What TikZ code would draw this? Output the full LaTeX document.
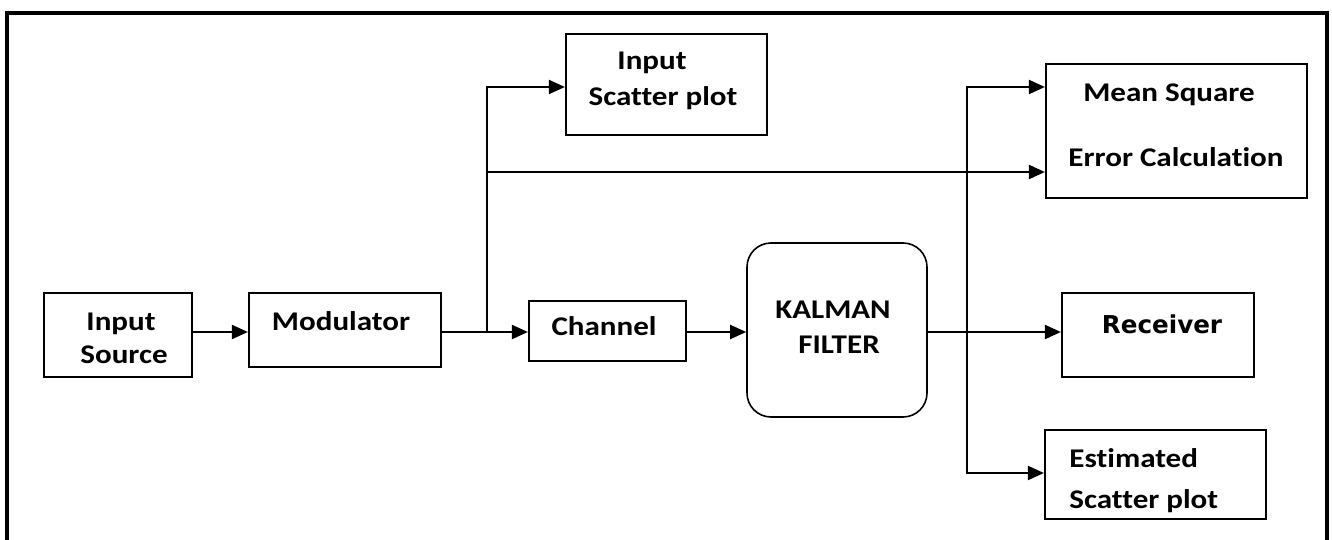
\documentclass[tikz,border=0pt]{standalone}
\usepackage{fontspec}
\setmainfont{Carlito}[FakeStretch=1.15,Ligatures=NoCommon]
\newfontfamily\rxfont{DejaVu Sans}
\usetikzlibrary{arrows.meta,fit}
\begin{document}
\begin{tikzpicture}[x=0.5pt,y=-0.5pt,
  box/.style={draw, line width=1.1pt, inner sep=0pt},
  kbox/.style={draw, line width=0.8pt, inner sep=0pt, rounded corners=12pt},
  conn/.style={line width=1pt},
  arr/.style={line width=1pt, -{Triangle[length=8pt,width=7pt]}},
  txt/.style={font=\fontsize{13.5}{16}\selectfont\bfseries, inner sep=0pt, anchor=base},
  ltxt/.style={font=\fontsize{13.5}{16}\selectfont\bfseries, inner sep=0pt, anchor=base west}]
\useasboundingbox (0,0) rectangle (1332,540);
% outer frame
\draw[line width=2pt] (7,545) -- (7,13) -- (1327,13) -- (1327,545);
% boxes
\node[box, fit={(44,293)(192,377)}] (ins) {};
\node[box, fit={(249,293)(441,367)}] (mod) {};
\node[box, fit={(529,301)(686,361)}] (ch) {};
\node[kbox, fit={(747,243)(927,417)}] (kf) {};
\node[box, fit={(1062,293)(1254,377)}] (rx) {};
\node[box, fit={(566,34)(767,135)}] (isp) {};
\node[box, fit={(1046,64)(1307,198)}] (mse) {};
\node[box, fit={(1045,430)(1266,519)}] (est) {};
% texts
\node[txt] (inst1) at (121,330) {Input};
\node[txt] (inst2) at (124,363) {Source};
\node[txt] (modt) at (341,330) {Modulator};
\node[txt] (cht) at (604,335) {Channel};
\node[txt] (kft1) at (833,318) {KALMAN};
\node[txt] (kft2) at (839,353) {FILTER};
\node[font=\rxfont\fontsize{12.3}{15}\selectfont\bfseries, inner sep=0pt, anchor=base] (rxt) at (1162,333) {Receiver};
\node[txt] (ispt1) at (652,70) {Input};
\node[txt] (ispt2) at (663,105) {Scatter plot};
\node[txt] (mset1) at (1169,102) {Mean Square};
\node[txt] (mset2) at (1176,166) {Error Calculation};
\node[ltxt] (estt1) at (1069,467) {Estimated};
\node[ltxt] (estt2) at (1069,508) {Scatter plot};
% junctions
\coordinate (main) at (0,332);
\coordinate (b1) at (487,332);
\coordinate (b1m) at (487,172);
\coordinate (b2) at (967,332);
% connectors
\draw[arr] (ins.east |- main) -- (mod.west |- main);
\draw[arr] (mod.east |- main) -- (ch.west |- main);
\draw[arr] (b1) |- (isp.west |- 0,87);
\draw[arr] (b1m) -- (mse.west |- 0,172);
\draw[arr] (ch.east |- main) -- (kf.west |- main);
\draw[arr] (kf.east |- main) -- (rx.west |- main);
\draw[arr] (b2) |- (mse.west |- 0,87);
\draw[arr] (b2) |- (est.west |- 0,473);
\end{tikzpicture}
\end{document}
